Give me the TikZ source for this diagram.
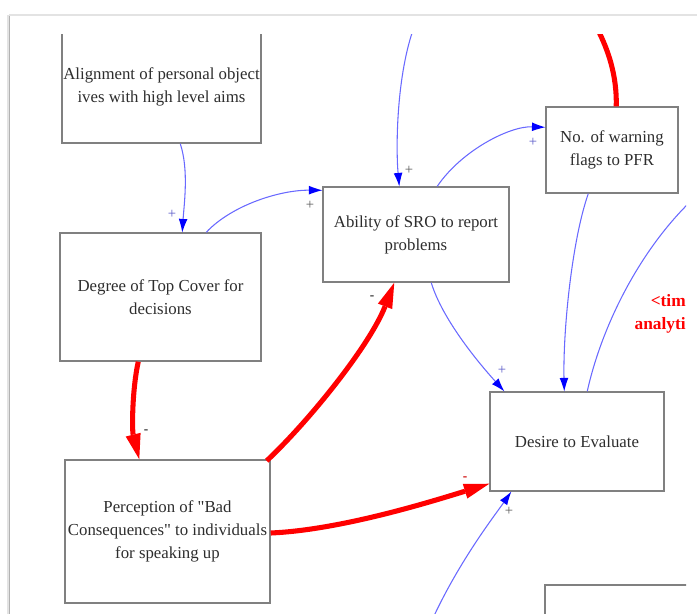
\documentclass[tikz,border=0pt]{standalone}
\usepackage{fontspec}
\setmainfont{Liberation Serif}[Ligatures=TeXOff]
\usetikzlibrary{arrows.meta,calc}
\definecolor{boxgray}{RGB}{128,128,128}
\definecolor{txtgray}{RGB}{45,45,45}
\definecolor{linkblue}{RGB}{105,105,255}
\definecolor{labgray}{RGB}{90,90,90}
\definecolor{labblue}{RGB}{90,90,200}
\begin{document}
\begin{tikzpicture}[x=0.75pt,y=-0.75pt,
  var/.style={draw=boxgray,line width=1.1pt,inner sep=0pt,align=center,text=txtgray,
    font=\fontsize{12.6}{17.3}\selectfont},
  poslink/.style={draw=linkblue,line width=0.8pt,-{Latex[length=10pt,width=6.5pt,line width=0pt,color=blue]}},
  posline/.style={draw=linkblue,line width=0.8pt},
  neglink/.style={draw=red,line width=3.8pt,-{Triangle[length=19pt,width=11.5pt,line width=0pt]}},
  negline/.style={draw=red,line width=3.8pt},
  plab/.style={font=\fontsize{11}{11}\selectfont,inner sep=0pt},
  mlab/.style={font=\bfseries\fontsize{10}{10}\selectfont,inner sep=0pt},
]
\useasboundingbox (0,0) rectangle (697,614);
% page frame
\fill[gray!22] (6.5,15) rectangle (10,614);
\draw[gray!60,line width=0.8pt] (9.5,15)--(9.5,614);
\draw[gray!22,line width=0.8pt] (9,15)--(697,15);

\begin{scope}
\clip (10.5,34) rectangle (686,614);
% variables
\node[var,minimum width=149.25pt,minimum height=84.75pt] (align) at (161.5,86.5)
  {Alignment of personal object\\ives with high level aims};
\node[var,minimum width=150.75pt,minimum height=96pt] (degree) at (160.5,297)
  {Degree of Top Cover for\\decisions};
\node[var,minimum width=139.5pt,minimum height=71.25pt] (ability) at (416,234.5)
  {Ability of SRO to report\\problems};
\node[var,minimum width=99pt,minimum height=64.5pt] (flags) at (612,150)
  {No. of warning\\flags to PFR};
\node[var,minimum width=130.5pt,minimum height=74.25pt] (desire) at (577,441.5)
  {Desire to Evaluate};
\node[var,minimum width=153.75pt,minimum height=107.25pt] (percep) at (167.5,531.5)
  {Perception of "Bad\\Consequences" to individuals\\for speaking up};
\draw[draw=boxgray,line width=1.1pt] (545,620) -- (545,585) -- (692,585);

\node[text=red,font=\bfseries\fontsize{13}{17.5}\selectfont,align=right,anchor=east,inner sep=0pt]
  (shadow) at (686,314) {<tim\\analyti};

% free ends
\coordinate (topA) at (413,30);
\coordinate (topB) at (598,30);
\coordinate (rightC) at (692,200);
\coordinate (botD) at (433,618);

% positive links
\draw[poslink] ($(align.south west)+(119,0)$) .. controls (189,170) and (184,205) .. ($(degree.north west)+(123,0)$);
\draw[poslink] ($(degree.north west)+(147,0)$) .. controls (232,205) and (280,190) .. ($(ability.north west)+(0,4)$);
\draw[poslink] (topA) .. controls (396,80) and (396,150) .. ($(ability.north west)+(77,0)$);
\draw[poslink] ($(ability.north west)+(115,0)$) .. controls (462,150) and (510,126) .. ($(flags.north west)+(0,21)$);
\draw[poslink] ($(flags.south west)+(43,0)$) .. controls (572,240) and (563,330) .. ($(desire.north west)+(75,0)$);
\draw[poslink] ($(ability.south west)+(109,0)$) .. controls (442,318) and (476,360) .. ($(desire.north west)+(15,0)$);
\draw[poslink] (botD) .. controls (460,560) and (495,515) .. ($(desire.south west)+(22,0)$);
\draw[posline] ($(desire.north west)+(98,0)$) .. controls (602,325) and (640,250) .. (rightC);

% negative links
\draw[negline] ($(flags.north west)+(71,0)$) .. controls (617,75) and (608,50) .. (topB);
\draw[neglink] ($(degree.south west)+(79,0)$) .. controls (132,390) and (132,430) .. ($(percep.north west)+(75,0)$);
\draw[neglink] ($(percep.north east)+(-4,1.5)$) .. controls (310,420) and (370,345) .. ($(ability.south west)+(72,0)$);
\draw[neglink] ($(percep.east)+(0,1.5)$) .. controls (340,530) and (430,502) .. ($(desire.south west)+(0,-8)$);

% polarity labels
\node[plab,text=labblue] (p1) at (172,214) {+};
\node[plab,text=labgray] (p2) at (310,205) {+};
\node[plab,text=labgray] (p3) at (409,170) {+};
\node[plab,text=labblue] (p4) at (533,142) {+};
\node[plab,text=labblue] (p5) at (502,370) {+};
\node[plab,text=labgray] (p6) at (509,511) {+};
\node[mlab,text=txtgray] (m1) at (146,432) {-};
\node[mlab,text=txtgray] (m2) at (372,298) {-};
\node[mlab,text=red!80!black] (m3) at (465,479) {-};
\end{scope}
\end{tikzpicture}
\end{document}
